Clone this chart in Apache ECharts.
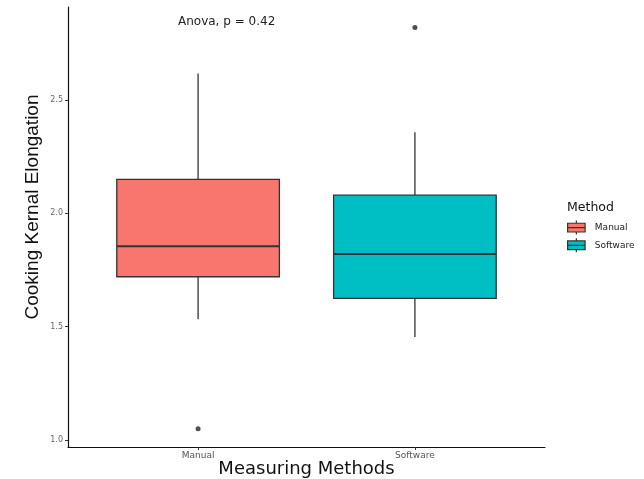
<!DOCTYPE html>
<html><head><meta charset="utf-8">
<script src="https://cdn.jsdelivr.net/npm/echarts@6/dist/echarts.min.js"></script>
<style>html,body{margin:0;padding:0;background:#fff}#c{width:644px;height:479px}</style>
</head><body><div id="c"></div>
<script>
const categories = ['Manual', 'Software'];
const colors = ['#F8766D', '#00BFC4'];
// [low whisker, Q1, median, Q3, high whisker]
const manualBox = [1.533, 1.72, 1.855, 2.15, 2.617];
const softwareBox = [1.454, 1.625, 1.82, 2.08, 2.357];
const manualOutliers = [1.05];
const softwareOutliers = [2.82];
const yTicks = [1.0, 1.5, 2.0, 2.5];
const boxes = [manualBox, softwareBox];
const outliers = [manualOutliers, softwareOutliers];

const chart = echarts.init(document.getElementById('c'), null, {renderer: 'canvas'});

function renderBox(params, api) {
  const x = api.value(0);
  const lo = api.value(1), q1 = api.value(2), med = api.value(3), q3 = api.value(4), hi = api.value(5);
  const w = api.size([0.75, 0])[0];
  const pLo = api.coord([x, lo]), pQ1 = api.coord([x, q1]), pMed = api.coord([x, med]),
        pQ3 = api.coord([x, q3]), pHi = api.coord([x, hi]);
  const stroke = {stroke: '#333333', lineWidth: 1.3};
  return {
    type: 'group',
    children: [
      {type: 'line', shape: {x1: pHi[0], y1: pHi[1], x2: pQ3[0], y2: pQ3[1]}, style: stroke},
      {type: 'line', shape: {x1: pQ1[0], y1: pQ1[1], x2: pLo[0], y2: pLo[1]}, style: stroke},
      {type: 'rect', shape: {x: pQ3[0] - w / 2, y: pQ3[1], width: w, height: pQ1[1] - pQ3[1]},
        style: {fill: api.visual('color'), stroke: '#333333', lineWidth: 1.3}},
      {type: 'line', shape: {x1: pMed[0] - w / 2, y1: pMed[1], x2: pMed[0] + w / 2, y2: pMed[1]},
        style: {stroke: '#333333', lineWidth: 2}}
    ]
  };
}

const series = [];
categories.forEach((name, i) => {
  series.push({
    name: name,
    type: 'custom',
    renderItem: renderBox,
    itemStyle: {color: colors[i], borderColor: '#333', borderWidth: 1},
    encode: {x: 0, y: [1, 2, 3, 4, 5]},
    data: [[i + 1].concat(boxes[i])],
    z: 2
  });
  series.push({
    type: 'scatter',
    symbolSize: 5,
    itemStyle: {color: '#222'},
    data: outliers[i].map(v => [i + 1, v]),
    z: 3
  });
});

const legendIcon = 'path://M10,0 L10,3 M0,3 L20,3 L20,13 L0,13 Z M0,8 L20,8 M10,13 L10,16';
const wide = 'DejaVu Sans, sans-serif';

chart.setOption({
  animation: false,
  backgroundColor: '#ffffff',
  textStyle: {fontFamily: 'Liberation Sans, Arial, sans-serif'},
  title: [
    {text: 'Anova, p = 0.42', left: 178, top: 16, padding: 0,
      textStyle: {fontSize: 12, fontWeight: 'normal', color: '#222', fontFamily: wide}},
    {text: 'Method', left: 567, top: 201, padding: 0,
      textStyle: {fontSize: 12.5, fontWeight: 'normal', color: '#111', fontFamily: wide}}
  ],
  legend: {
    orient: 'vertical', left: 567, top: 220, itemGap: 2.5, padding: 0,
    itemWidth: 19, itemHeight: 14, icon: legendIcon,
    data: categories,
    textStyle: {fontSize: 9, color: '#222', fontFamily: wide, padding: [0, 0, 0, 4]},
    itemStyle: {borderColor: '#333', borderWidth: 1.2}
  },
  grid: {left: 68, right: 99, top: 7, bottom: 32, containLabel: false, outerBoundsMode: 'none'},
  xAxis: {
    type: 'value', min: 0.4, max: 2.6,
    name: 'Measuring Methods', nameLocation: 'middle', nameGap: 13, nameMoveOverlap: false,
    nameTextStyle: {fontSize: 18, color: '#111', verticalAlign: 'top', fontFamily: wide},
    splitLine: {show: false},
    axisLine: {show: true, onZero: false, lineStyle: {color: '#111', width: 1.2}},
    axisTick: {show: true, customValues: [1, 2], length: 3, lineStyle: {color: '#333'}},
    axisLabel: {customValues: [1, 2], margin: 4, fontSize: 9, color: '#555', fontFamily: wide,
      formatter: v => categories[Math.round(v) - 1] || ''}
  },
  yAxis: {
    type: 'value', min: 0.969, max: 2.91,
    name: 'Cooking Kernal Elongation', nameLocation: 'middle', nameGap: 26, nameMoveOverlap: false,
    nameTextStyle: {fontSize: 19, color: '#111', padding: [0, 0, 0, 40]},
    splitLine: {show: false},
    axisLine: {show: true, lineStyle: {color: '#111', width: 1.2}},
    axisTick: {show: true, customValues: yTicks, length: 3, lineStyle: {color: '#333'}},
    axisLabel: {customValues: yTicks, margin: 5, fontSize: 8, color: '#666', fontFamily: wide,
      formatter: v => v.toFixed(1)}
  },
  series: series
});
</script></body></html>
